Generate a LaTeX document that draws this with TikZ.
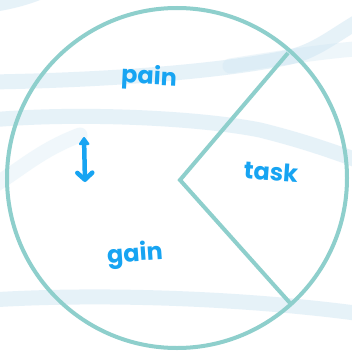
\documentclass[tikz,border=0pt]{standalone}
\usepackage{fontspec}
\usetikzlibrary{arrows.meta}
\newfontfamily\hand{Poppins}[UprightFont=* Bold]
\definecolor{ring}{HTML}{8ECFCC}
\definecolor{ink}{HTML}{17A4F2}
\definecolor{band}{HTML}{CFE6F3}
\tikzset{
  bandline/.style={draw=band, line width=15pt, opacity=0.5, line cap=round},
  ringline/.style={draw=ring, line width=4pt},
  word/.style={text=ink, font=\hand\fontsize{24}{24}\selectfont, inner sep=0pt}
}
\begin{document}
\begin{tikzpicture}[x=1pt,y=-1pt]
\useasboundingbox (0,0) rectangle (352,353);
\fill[white] (0,0) rectangle (352,353);
% background bands
\begin{scope}
\clip (0,0) rectangle (352,353);
\draw[bandline] (-10,5) .. controls (10,2) and (25,-2) .. (40,-8);
\draw[bandline] (-10,82) .. controls (120,80) and (230,70) .. (290,57) .. controls (320,50) and (340,30) .. (370,15);
\draw[bandline, opacity=0.35] (230,66) .. controls (280,58) and (330,50) .. (370,48);
\draw[bandline] (-10,120) .. controls (80,112) and (200,118) .. (260,130) .. controls (300,140) and (330,150) .. (370,165);
\draw[bandline, opacity=0.3] (-10,188) .. controls (20,170) and (40,150) .. (80,135);
\draw[bandline] (-10,300) .. controls (100,293) and (250,298) .. (370,315);
\end{scope}
% circle and wedge
\coordinate (c) at (177,178);
\draw[ringline] (c) circle (170);
\coordinate (apex) at (180,180);
\coordinate (top) at (288,53);
\coordinate (bot) at (290,303);
\draw[ringline, line join=miter] (top) -- (apex) -- (bot);
% labels
\node[word, rotate=-3] (pain) at (149,78) {pain};
\node[word, rotate=-4] (task) at (271,172) {task};
\node[word, rotate=4] (gain) at (135,255) {gain};
\coordinate (au) at (84,137);
\coordinate (ad) at (85,182);
\draw[draw=ink, line width=4.5pt, line cap=round, {Triangle[round,length=9pt,width=12pt]}-{Straight Barb[round,length=7pt,width=15pt]}] (au) -- (ad);
\end{tikzpicture}
\end{document}
